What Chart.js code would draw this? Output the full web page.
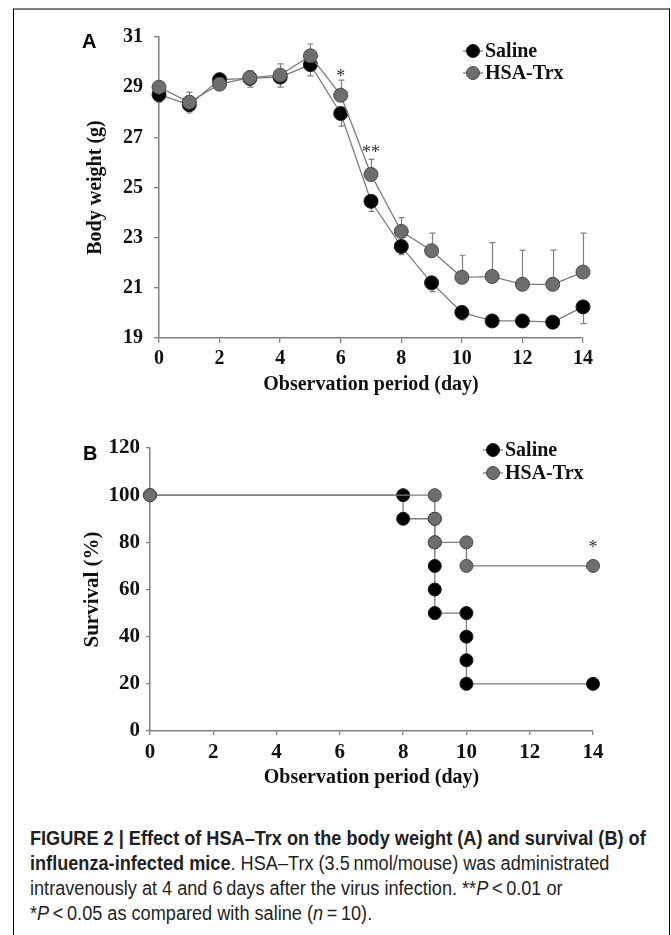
<!DOCTYPE html>
<html><head><meta charset="utf-8">
<script src="https://cdn.jsdelivr.net/npm/chart.js@4.4.0/dist/chart.umd.min.js"></script>
<style>
html,body{margin:0;padding:0;background:#fff;}
body{width:671px;height:935px;position:relative;overflow:hidden;}
#frame{position:absolute;left:13px;top:8px;width:657px;height:940px;border-left:1px solid #000;border-right:1.5px solid #000;border-top:2px solid #7f7f7f;box-sizing:border-box;}
.wrap{position:absolute;left:0;width:671px;height:400px;}
.plab{position:absolute;font-family:"Liberation Sans",Arial,sans-serif;font-weight:bold;font-size:20px;line-height:20px;color:#000;}
.cap{position:absolute;left:30px;font-family:"Liberation Sans",Arial,sans-serif;font-size:19.5px;line-height:25px;white-space:nowrap;transform-origin:0 0;transform:scaleX(0.93);color:#231f20;}
</style></head>
<body>
<div id="frame"></div>
<div class="wrap" style="top:0"><canvas id="cA"></canvas></div>
<div class="wrap" style="top:400px"><canvas id="cB"></canvas></div>
<div class="plab" style="left:82px;top:31px">A</div>
<div class="plab" style="left:83px;top:443px">B</div>
<div class="cap" style="top:826px"><b>FIGURE 2 | Effect of HSA–Trx on the body weight (A) and survival (B) of</b></div>
<div class="cap" style="top:851px"><b>influenza-infected mice</b>. HSA–Trx (3.5&thinsp;nmol/mouse) was administrated</div>
<div class="cap" style="top:876px">intravenously at 4 and 6&thinsp;days after the virus infection. **<i>P</i>&thinsp;&lt;&thinsp;0.01 or</div>
<div class="cap" style="top:901px">*<i>P</i>&thinsp;&lt;&thinsp;0.05 as compared with saline (<i>n</i>&thinsp;=&thinsp;10).</div>
<script>
// ---------- Panel A data ----------
const days = [0,1,2,3,4,5,6,7,8,9,10,11,12,13,14];
const salineWeight    = [28.7,28.3,29.3,29.35,29.4,29.9,27.95,24.45,22.65,21.2,20.02,19.68,19.68,19.63,20.24];
const salineWeightErr = [0.3,0.33,0.1,0.35,0.4,0.45,0.5,0.4,0.33,0.35,0.3,0.05,0.05,0.05,0.67];
const hsaWeight       = [29.0,28.4,29.12,29.38,29.48,30.25,28.68,25.52,23.25,22.48,21.42,21.45,21.14,21.14,21.63];
const hsaWeightErr    = [0.2,0.4,0.15,0.28,0.45,0.47,0.6,0.6,0.55,0.7,0.88,1.35,1.36,1.36,1.55];
const weightMarkDays   = [6,7];
const weightMarkValues = [29.4,26.35];
const weightMarkTexts  = ['*','**'];
const weightTickMin = 19, weightTickMax = 31, weightTickStep = 2;
const dayTickMin = 0, dayTickMax = 14, dayTickStep = 2;

// ---------- Panel B data ----------
const salineSurvDays  = [0,8,8,9,9,9,9,9,10,10,10,10,14];
const salineSurvival  = [100,100,90,90,80,70,60,50,50,40,30,20,20];
const hsaSurvDays     = [0,9,9,9,10,10,14];
const hsaSurvival     = [100,100,90,80,80,70,70];
const survMarkDays    = [14];
const survMarkValues  = [77.5];
const survMarkTexts   = ['*'];
const survTickMin = 0, survTickMax = 120, survTickStep = 20;

const seriesNames = ['Saline','HSA-Trx'];

const SERIF = '"Liberation Serif","Times New Roman",serif';
const AXIS = '#808080';
const LINE = '#7c7c7c';
const SAL_FILL = '#000000', SAL_BORDER = '#1a1a1a';
const HSA_FILL = '#6e6e6e', HSA_BORDER = '#4a4a4a';

const deco = {
  id: 'deco',
  beforeDatasetsDraw(chart, args, opts) {
    const {ctx, scales: {x, y}} = chart;
    (opts.errors || []).forEach(e => {
      ctx.save();
      ctx.strokeStyle = e.color; ctx.lineWidth = 1.2;
      e.xs.forEach((xv, i) => {
        const px = Math.round(x.getPixelForValue(xv)) + 0.5;
        const py = y.getPixelForValue(e.ys[i]);
        const py2 = y.getPixelForValue(e.ys[i] + e.dir * e.err[i]);
        ctx.beginPath();
        ctx.moveTo(px, py); ctx.lineTo(px, py2);
        ctx.moveTo(px - 3, py2); ctx.lineTo(px + 3, py2);
        ctx.stroke();
      });
      ctx.restore();
    });
  },
  afterDatasetsDraw(chart, args, opts) {
    const {ctx, scales: {x, y}} = chart;
    ctx.save();
    if (opts.marks) {
      ctx.fillStyle = '#333';
      ctx.font = '18px ' + SERIF;
      ctx.textAlign = 'center'; ctx.textBaseline = 'middle';
      opts.marks.xs.forEach((xv, i) => {
        ctx.fillText(opts.marks.texts[i], x.getPixelForValue(xv), y.getPixelForValue(opts.marks.ys[i]));
      });
    }
    if (opts.legend) {
      const L = opts.legend;
      L.items.forEach((it, i) => {
        const cy = L.y + i * L.gap;
        ctx.strokeStyle = LINE; ctx.lineWidth = 1.3;
        ctx.beginPath(); ctx.moveTo(L.x, cy); ctx.lineTo(L.x + 20, cy); ctx.stroke();
        ctx.beginPath(); ctx.arc(L.x + 10, cy, L.r, 0, Math.PI * 2);
        ctx.fillStyle = it.fill; ctx.fill();
        ctx.strokeStyle = it.border; ctx.lineWidth = 1; ctx.stroke();
        ctx.fillStyle = '#111';
        ctx.font = 'bold 20px ' + SERIF;
        ctx.textAlign = 'left'; ctx.textBaseline = 'middle';
        ctx.fillText(it.text, L.x + 22, cy + 1);
      });
    }
    ctx.restore();
  }
};

function axisCommon(size, tickLen, pad) {
  return {
    ticks: {color: '#111', font: {family: SERIF, size: size, weight: 'bold'}, padding: pad},
    grid: {drawOnChartArea: false, drawTicks: true, tickLength: tickLen, color: AXIS, lineWidth: 1.3},
    border: {color: AXIS, width: 1.5}
  };
}
function pts(xs, ys) { return xs.map((d, i) => ({x: d, y: ys[i]})); }

// ---------- Chart A ----------
const ax = axisCommon(20, 5, 4), ay = axisCommon(20, 5, 11);
ax.ticks.stepSize = dayTickStep; ay.ticks.stepSize = weightTickStep;
new Chart(document.getElementById('cA'), {
  type: 'line',
  data: {datasets: [
    {label: seriesNames[1], data: pts(days, hsaWeight), order: 0, clip: false,
     borderColor: LINE, borderWidth: 1.3, pointRadius: 7, pointBackgroundColor: HSA_FILL,
     pointBorderColor: HSA_BORDER, pointBorderWidth: 1, tension: 0},
    {label: seriesNames[0], data: pts(days, salineWeight), order: 1, clip: false,
     borderColor: LINE, borderWidth: 1.3, pointRadius: 7, pointBackgroundColor: SAL_FILL,
     pointBorderColor: SAL_BORDER, pointBorderWidth: 1, tension: 0}
  ]},
  options: {
    responsive: true, maintainAspectRatio: false, animation: false,
    layout: {padding: {left: 79, right: 88, top: 37, bottom: 2}},
    plugins: {
      legend: {display: false}, tooltip: {enabled: false},
      deco: {
        errors: [
          {xs: days, ys: hsaWeight, err: hsaWeightErr, dir: 1, color: AXIS},
          {xs: days, ys: salineWeight, err: salineWeightErr, dir: -1, color: AXIS}
        ],
        marks: {xs: weightMarkDays, ys: weightMarkValues, texts: weightMarkTexts},
        legend: {x: 463, y: 51, gap: 22, r: 6.5, items: [
          {text: seriesNames[0], fill: SAL_FILL, border: SAL_BORDER},
          {text: seriesNames[1], fill: HSA_FILL, border: HSA_BORDER}]}
      }
    },
    scales: {
      x: Object.assign(ax, {type: 'linear', min: dayTickMin, max: dayTickMax,
        afterFit(s) { s.height = 60; },
        title: {display: true, text: 'Observation period (day)', color: '#111',
          font: {family: SERIF, size: 20, weight: 'bold'}, padding: {top: 0, bottom: 1}}}),
      y: Object.assign(ay, {type: 'linear', min: weightTickMin, max: weightTickMax,
        afterFit(s) { s.width = 80; },
        title: {display: true, text: 'Body weight (g)', color: '#111',
          font: {family: SERIF, size: 20, weight: 'bold'}, padding: {top: 5, bottom: 0}}})
    }
  },
  plugins: [deco]
});

// ---------- Chart B ----------
const bx = axisCommon(21, 4, 5), by = axisCommon(21, 4, 6);
bx.ticks.stepSize = dayTickStep; by.ticks.stepSize = survTickStep;
new Chart(document.getElementById('cB'), {
  type: 'line',
  data: {datasets: [
    {label: seriesNames[1], data: pts(hsaSurvDays, hsaSurvival), order: 0, clip: false,
     borderColor: LINE, borderWidth: 1.3, pointRadius: 6.5, pointBackgroundColor: HSA_FILL,
     pointBorderColor: HSA_BORDER, pointBorderWidth: 1, tension: 0},
    {label: seriesNames[0], data: pts(salineSurvDays, salineSurvival), order: 1, clip: false,
     borderColor: LINE, borderWidth: 1.3, pointRadius: 6.5, pointBackgroundColor: SAL_FILL,
     pointBorderColor: SAL_BORDER, pointBorderWidth: 1, tension: 0}
  ]},
  options: {
    responsive: true, maintainAspectRatio: false, animation: false,
    layout: {padding: {left: 80, right: 78, top: 48, bottom: 9}},
    plugins: {
      legend: {display: false}, tooltip: {enabled: false},
      deco: {
        marks: {xs: survMarkDays, ys: survMarkValues, texts: survMarkTexts},
        legend: {x: 483, y: 50, gap: 23, r: 6.5, items: [
          {text: seriesNames[0], fill: SAL_FILL, border: SAL_BORDER},
          {text: seriesNames[1], fill: HSA_FILL, border: HSA_BORDER}]}
      }
    },
    scales: {
      x: Object.assign(bx, {type: 'linear', min: dayTickMin, max: dayTickMax,
        afterFit(s) { s.height = 60; },
        title: {display: true, text: 'Observation period (day)', color: '#111',
          font: {family: SERIF, size: 20, weight: 'bold'}, padding: {top: 0, bottom: 1}}}),
      y: Object.assign(by, {type: 'linear', min: survTickMin, max: survTickMax,
        afterFit(s) { s.width = 70; },
        title: {display: true, text: 'Survival (%)', color: '#111',
          font: {family: SERIF, size: 21, weight: 'bold'}, padding: {top: 0, bottom: 0}}})
    }
  },
  plugins: [deco]
});
</script>
</body></html>
